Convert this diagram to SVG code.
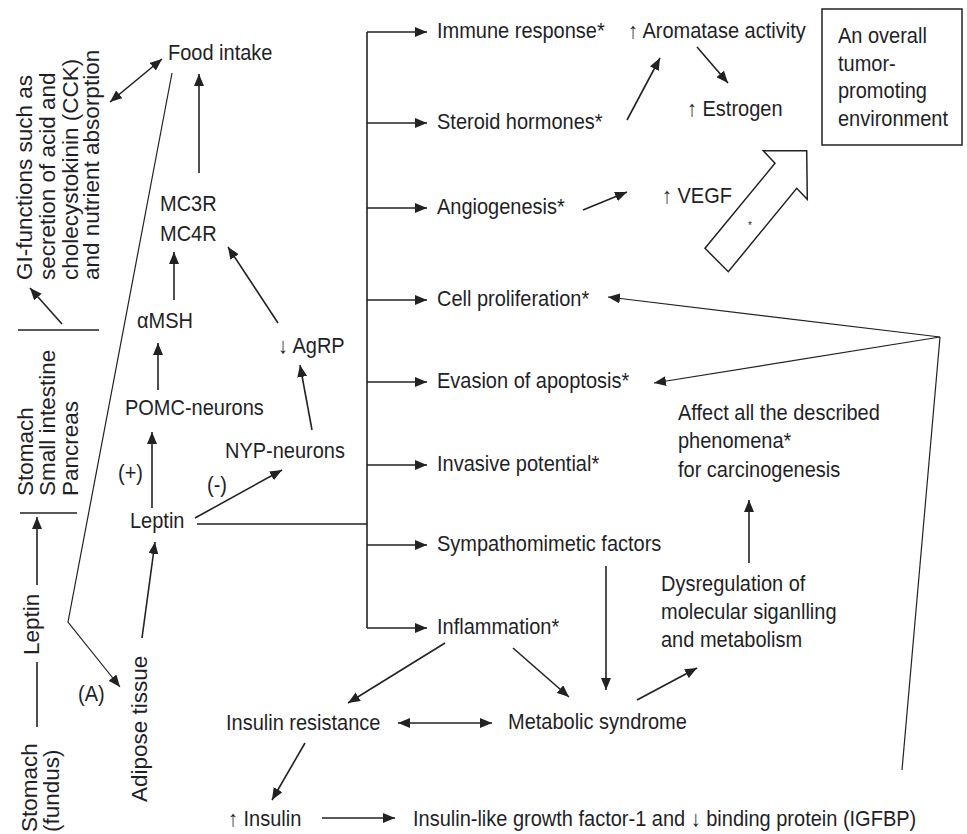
<svg xmlns="http://www.w3.org/2000/svg" width="967" height="834" viewBox="0 0 967 834">
<style>
.h{font-family:"Liberation Sans",Arial,"DejaVu Sans",sans-serif;font-size:20px;fill:#1f1f28;transform-box:fill-box;transform-origin:center;transform:scaleY(1.12)}
.v{font-family:"Liberation Sans",Arial,"DejaVu Sans",sans-serif;font-size:22.5px;fill:#1f1f28}
.s{font-family:"Liberation Sans",Arial,sans-serif;font-size:10px;fill:#222}
.c{fill:none;stroke:#222;stroke-width:1.6}
.t{fill:none;stroke:#222;stroke-width:1.2}
.a{marker-end:url(#ah)}
.b{marker-start:url(#ah);marker-end:url(#ah)}
</style>
<defs>
<marker id="ah" markerWidth="12" markerHeight="10" refX="12" refY="5" orient="auto-start-reverse" markerUnits="userSpaceOnUse" viewBox="0 0 12 10"><path d="M0,0 L12,5 L0,10 z" fill="#222"/></marker>
</defs>
<rect width="967" height="834" fill="#fff"/>
<g id="connectors">
<path class="c" d="M367,32 V628"/>
<path class="c a" d="M367,32 H427"/>
<path class="c a" d="M367,123 H427"/>
<path class="c a" d="M367,208 H427"/>
<path class="c a" d="M367,300 H427"/>
<path class="c a" d="M367,382 H427"/>
<path class="c a" d="M367,465 H427"/>
<path class="c a" d="M367,545 H427"/>
<path class="c a" d="M367,628 H427"/>
<path class="c" d="M197,524 H367"/>
<path class="c a" d="M152,508 V432"/>
<path class="c a" d="M158,390 V343"/>
<path class="c a" d="M174,300 V252"/>
<path class="c a" d="M199,173 V74"/>
<path class="c a" d="M278,323 L228,247"/>
<path class="c a" d="M312,430 L300,365"/>
<path class="c a" d="M195,518 L282,470"/>
<path class="c b" d="M110,102 L162,59"/>
<path class="t a" d="M172,73 L68,622 L120,687"/>
<path class="c a" d="M142,638 L155,542"/>
<path class="c" d="M18,330 H99"/>
<path class="c a" d="M62,324 L30,288"/>
<path class="c" d="M20,513 H77"/>
<path class="c a" d="M37,585 V517"/>
<path class="c" d="M37,662 V727"/>
<path class="c a" d="M627,120 L660,58"/>
<path class="c a" d="M697,47 L728,83"/>
<path class="c a" d="M583,210 L627,192"/>
<path class="t" d="M902,770 L940,337"/>
<path class="t a" d="M940,337 L608,297"/>
<path class="t a" d="M940,337 L654,383"/>
<path class="c a" d="M749,563 V500"/>
<path class="c a" d="M606,566 V690"/>
<path class="c a" d="M513,648 L569,697"/>
<path class="c a" d="M445,643 L348,703"/>
<path class="c a" d="M637,700 L697,668"/>
<path class="c b" d="M398,723 H492"/>
<path class="c a" d="M305,743 L272,800"/>
<path class="c a" d="M322,818 H395"/>
<polygon points="806.7,150.7 763.3,150.7 775,163.3 705,248.3 728.3,271.7 796.7,188.3 807.3,199.3" fill="#fff" stroke="#222" stroke-width="1.5"/>
</g>
<g id="gi-functions">
<text class="v" transform="translate(32,280) rotate(-90)">GI-functions such as</text>
<text class="v" transform="translate(55,280) rotate(-90)">secretion of acid and</text>
<text class="v" transform="translate(78,280) rotate(-90)">cholecystokinin (CCK)</text>
<text class="v" transform="translate(99,280) rotate(-90)">and nutrient absorption</text>
</g>
<g id="organs">
<text class="v" transform="translate(33,496) rotate(-90)">Stomach</text>
<text class="v" transform="translate(55,496) rotate(-90)">Small intestine</text>
<text class="v" transform="translate(78,496) rotate(-90)">Pancreas</text>
</g>
<g id="leptin-vertical"><text class="v" transform="translate(39,655) rotate(-90)">Leptin</text></g>
<g id="stomach-fundus">
<text class="v" transform="translate(37,832) rotate(-90)">Stomach</text>
<text class="v" transform="translate(59,832) rotate(-90)">(fundus)</text>
</g>
<g id="adipose"><text class="v" transform="translate(147,802) rotate(-90)">Adipose tissue</text></g>
<g id="label-a"><text class="h" x="78" y="700">(A)</text></g>
<g id="food-intake"><text class="h" x="168" y="59">Food intake</text></g>
<g id="mc3r-mc4r"><text class="h" x="160" y="210">MC3R</text><text class="h" x="160" y="240">MC4R</text></g>
<g id="amsh"><text class="h" x="137" y="327">αMSH</text></g>
<g id="agrp"><text class="h" x="278" y="352">↓ AgRP</text></g>
<g id="pomc"><text class="h" x="125" y="414">POMC-neurons</text></g>
<g id="nyp"><text class="h" x="225" y="457">NYP-neurons</text></g>
<g id="plus"><text class="h" x="118" y="479">(+)</text></g>
<g id="minus"><text class="h" x="207" y="491">(-)</text></g>
<g id="leptin"><text class="h" x="130" y="527">Leptin</text></g>
<g id="immune"><text class="h" x="437" y="37">Immune response*</text></g>
<g id="steroid"><text class="h" x="437" y="128">Steroid hormones*</text></g>
<g id="angiogenesis"><text class="h" x="437" y="213">Angiogenesis*</text></g>
<g id="cell-proliferation"><text class="h" x="437" y="305">Cell proliferation*</text></g>
<g id="evasion"><text class="h" x="437" y="387">Evasion of apoptosis*</text></g>
<g id="invasive"><text class="h" x="437" y="470">Invasive potential*</text></g>
<g id="sympathomimetic"><text class="h" x="437" y="550">Sympathomimetic factors</text></g>
<g id="inflammation"><text class="h" x="437" y="633">Inflammation*</text></g>
<g id="aromatase"><text class="h" x="628" y="37">↑ Aromatase activity</text></g>
<g id="estrogen"><text class="h" x="687" y="115">↑ Estrogen</text></g>
<g id="vegf"><text class="h" x="662" y="202">↑ VEGF</text></g>
<g id="big-arrow-star"><text class="s" x="748" y="229">*</text></g>
<g id="tumor-box">
<rect x="822" y="9" width="140" height="136" fill="none" stroke="#222" stroke-width="1.5"/>
<text class="h" x="838" y="42">An overall</text>
<text class="h" x="838" y="70">tumor-</text>
<text class="h" x="838" y="97">promoting</text>
<text class="h" x="838" y="125">environment</text>
</g>
<g id="affect">
<text class="h" x="678" y="419">Affect all the described</text>
<text class="h" x="678" y="447">phenomena*</text>
<text class="h" x="678" y="476">for carcinogenesis</text>
</g>
<g id="dysregulation">
<text class="h" x="661" y="590">Dysregulation of</text>
<text class="h" x="661" y="618">molecular siganlling</text>
<text class="h" x="661" y="646">and metabolism</text>
</g>
<g id="metabolic-syndrome"><text class="h" x="508" y="728">Metabolic syndrome</text></g>
<g id="insulin-resistance"><text class="h" x="226" y="729">Insulin resistance</text></g>
<g id="insulin"><text class="h" x="228" y="825">↑ Insulin</text></g>
<g id="igf"><text class="h" x="413" y="825">Insulin-like growth factor-1 and  ↓ binding protein (IGFBP)</text></g>
</svg>
